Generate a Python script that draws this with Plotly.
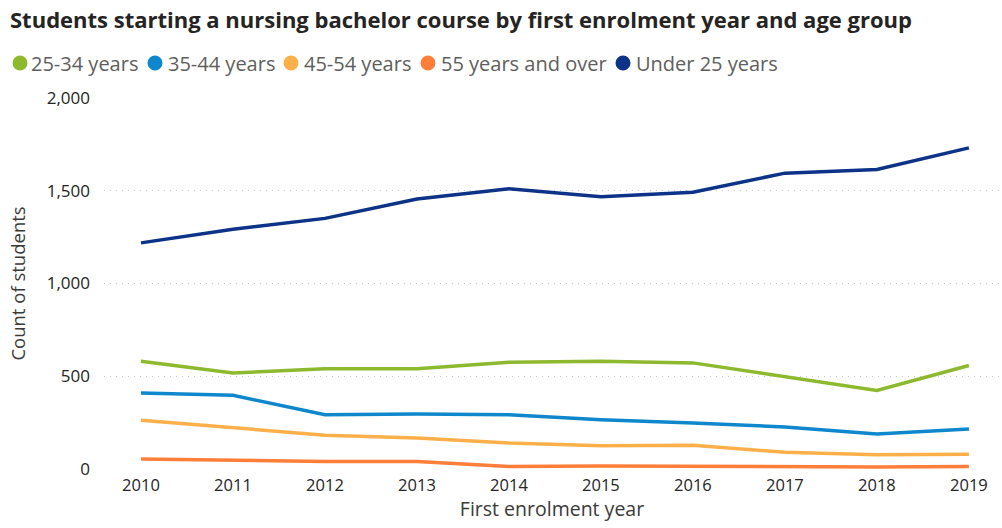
import plotly.graph_objects as go

years = [2010, 2011, 2012, 2013, 2014, 2015, 2016, 2017, 2018, 2019]
age_25_34 = [581, 518, 540, 540, 576, 581, 572, 496, 423, 558]
age_35_44 = [410, 397, 293, 297, 293, 266, 248, 227, 189, 216]
age_45_54 = [263, 221, 182, 167, 140, 126, 128, 90, 77, 79]
age_55_over = [54, 47, 41, 41, 14, 16, 14, 14, 11, 13]
age_under_25 = [1219, 1293, 1351, 1455, 1511, 1468, 1492, 1595, 1615, 1731]
y_ticks = [0, 500, 1000, 1500, 2000]

series_names = ["25-34 years", "35-44 years", "45-54 years", "55 years and over", "Under 25 years"]
series_values = [age_25_34, age_35_44, age_45_54, age_55_over, age_under_25]
series_colors = ["#8DB92E", "#0F87CC", "#FDB04A", "#FF7F3A", "#0C3388"]

# layout geometry (pixels)
W, H = 1002, 528
L, R, T, B = 104, 2, 98, 59
PW, PH = W - L - R, H - T - B

fig = go.Figure()
for name, vals, col in zip(series_names, series_values, series_colors):
    fig.add_trace(go.Scatter(x=years, y=vals, mode="lines", name=name,
                             line=dict(color=col, width=3.5), showlegend=False,
                             hovertemplate="%{x}: %{y}<extra>" + name + "</extra>"))

# custom legend (circle + label), placed like the reference
legend_circle_px = [20, 155, 291, 428, 623]
legend_text_px = [29, 166, 302, 439, 634]
legend_y_px = 63
ly = (H - B - legend_y_px) / PH
shapes = []
annotations = []
for name, col, cx, tx in zip(series_names, series_colors, legend_circle_px, legend_text_px):
    xp = (cx - L) / PW
    shapes.append(dict(type="circle", xref="paper", yref="paper", xsizemode="pixel",
                       ysizemode="pixel", xanchor=xp, yanchor=ly, x0=-7.5, x1=7.5,
                       y0=-7.5, y1=7.5, fillcolor=col, line=dict(width=0)))
    annotations.append(dict(text=name, xref="paper", yref="paper", x=(tx - L) / PW, y=ly,
                            xanchor="left", yanchor="middle", showarrow=False,
                            font=dict(size=20, color="#605E5C")))

font_family = "Open Sans, DejaVu Sans, sans-serif"
fig.update_layout(
    width=W, height=H,
    margin=dict(l=L, r=R, t=T, b=B),
    paper_bgcolor="white", plot_bgcolor="white",
    font=dict(family=font_family, color="#605E5C"),
    title=dict(text="<b>Students starting a nursing bachelor course by first enrolment year and age group</b>",
               x=10 / W, xanchor="left", xref="container", y=1 - 20 / H, yref="container",
               yanchor="middle",
               font=dict(size=22, color="#252423", family=font_family)),
    showlegend=False,
    shapes=shapes,
    annotations=annotations,
)
fig.update_xaxes(range=[2009.598, 2019.338], tickmode="array", tickvals=years,
                 ticktext=[str(y) for y in years], showgrid=False, zeroline=False,
                 showline=False, ticks="", ticklabelstandoff=4, automargin=False,
                 tickfont=dict(size=16.5, color="#252423"),
                 title=dict(text="First enrolment year", font=dict(size=19.5, color="#3B3A39"), standoff=5))
fig.update_yaxes(range=[0, 2000], tickvals=y_ticks, tickformat=",",
                 showgrid=True, gridcolor="#C8C8C8", griddash="1px,5px", gridwidth=1,
                 zeroline=False, showline=False, ticks="", ticklabelstandoff=13, automargin=False,
                 tickfont=dict(size=17, color="#252423"),
                 title=dict(text="Count of students", font=dict(size=18.5, color="#3B3A39"), standoff=16))

fig.write_html("out.html", config={"displayModeBar": False},
               post_script="document.body.style.margin='0';document.body.style.overflow='hidden';")
